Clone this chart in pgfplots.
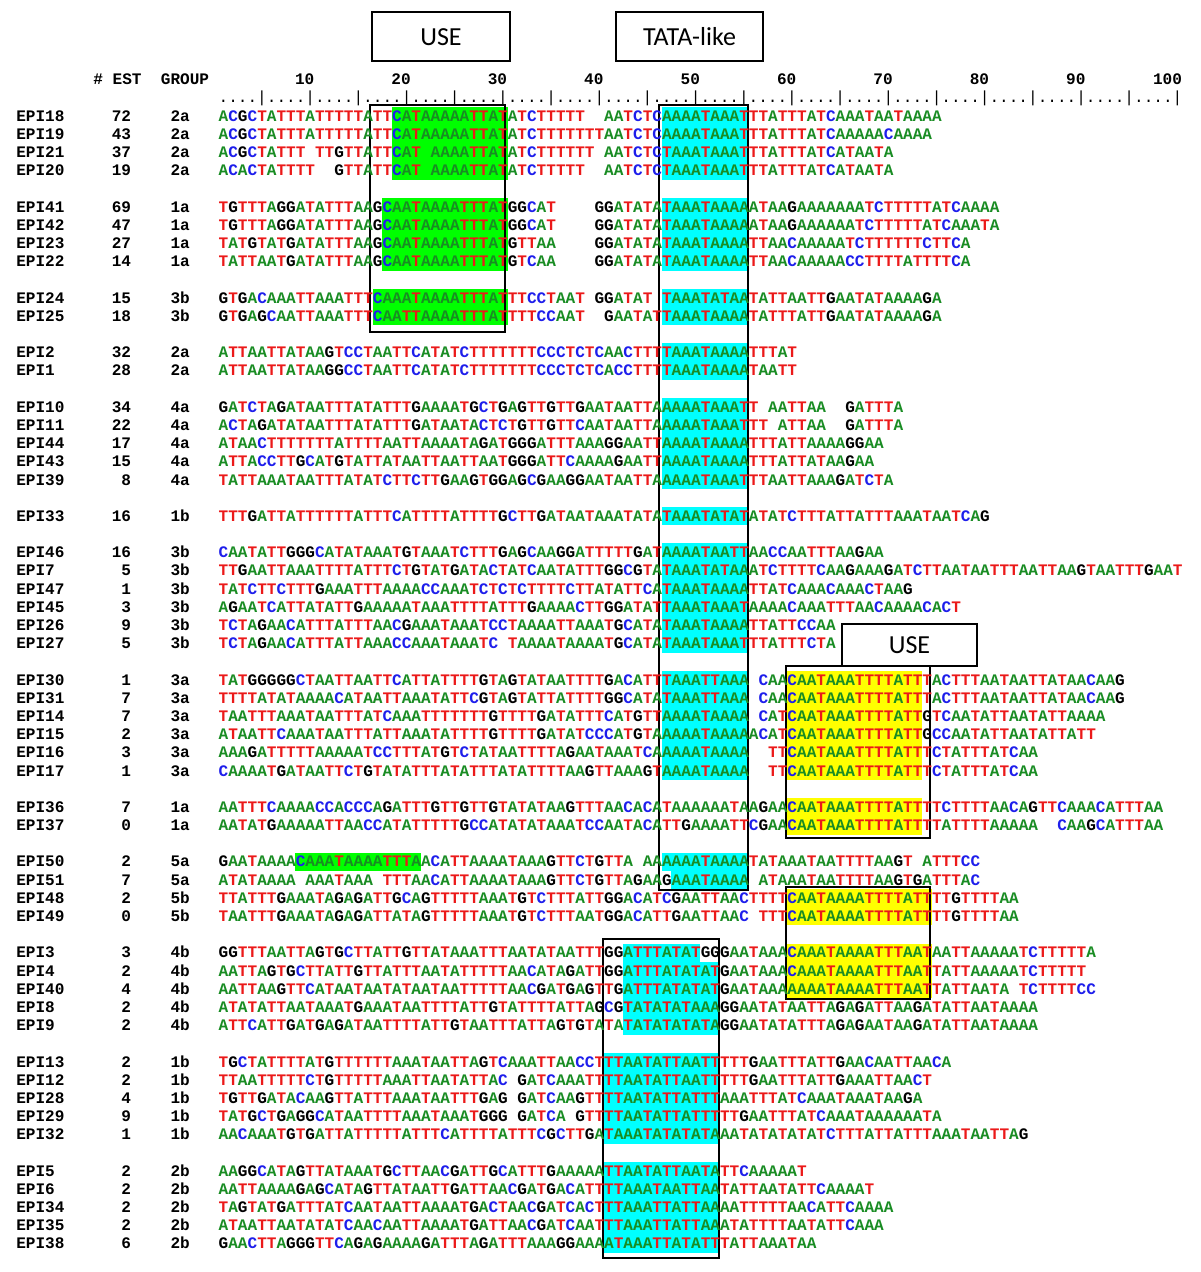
\documentclass[border=0pt]{standalone}
\usepackage{fontspec}
\usepackage{xcolor}
\usepackage{pgfplots}
\pgfplotsset{compat=1.18}
\newfontfamily\seqfont{Liberation Mono}
\newfontfamily\boxfont{Carlito}
\definecolor{cA}{RGB}{25,140,35}
\definecolor{cT}{RGB}{235,25,25}
\definecolor{cC}{RGB}{30,30,235}
\definecolor{cG}{RGB}{0,0,0}
\definecolor{hlG}{RGB}{0,255,0}
\definecolor{hlC}{RGB}{0,255,255}
\definecolor{hlY}{RGB}{255,255,0}

% one coloured letter per base, '-' is a gap
\makeatletter
\def\nt#1{\if#1A\textcolor{cA}{A}\else\if#1T\textcolor{cT}{T}\else
  \if#1C\textcolor{cC}{C}\else\if#1G\textcolor{cG}{G}\else\phantom{A}\fi\fi\fi\fi}
\def\seq#1{\seq@#1\@nil}
\def\seq@#1{\ifx#1\@nil\else\nt#1\expandafter\seq@\fi}
\makeatother

\tikzset{lab/.style={anchor=base west, inner sep=0pt,
  font=\seqfont\bfseries\fontsize{8.03}{9}\selectfont}}

% grid in pixels: column c starts at 218.3+(c-1)*9.64, row r centred at 116+18.19*r
\newcommand\ybase[1]{121.2+18.19*#1}
\newcommand\seqrow[6]{%
  \node[lab] at (axis cs:15.9,{\ybase{#1}}) {#2};
  \node[lab,anchor=base east] at (axis cs:131.5,{\ybase{#1}}) {#3};
  \node[lab] at (axis cs:170.1,{\ybase{#1}}) {#4};
  \node[lab] at (axis cs:218.3,{\ybase{#1}}) {\seq{#5}};
  \node[lab] at (axis cs:690.7,{\ybase{#1}}) {\seq{#6}};
}
% highlight: colour, first col, last col, first row, last row
\newcommand\hl[5]{%
  \pgfmathsetmacro\xa{218.3+(#2-1)*9.64}%
  \pgfmathsetmacro\xb{218.3+#3*9.64}%
  \pgfmathsetmacro\ya{116+18.19*#4-9.1}%
  \pgfmathsetmacro\yb{116+18.19*#5+9.1}%
  \addplot[fill=#1,draw=none,mark=none,forget plot]
    coordinates {(\xa,\ya) (\xb,\ya) (\xb,\yb) (\xa,\yb)} -- cycle;
}
% outline box in pixels: x1 x2 y1 y2
\newcommand\bx[4]{%
  \addplot[draw=black,line width=1pt,mark=none,forget plot]
    coordinates {(#1,#3) (#2,#3) (#2,#4) (#1,#4)} -- cycle;
}

\begin{document}
\begin{tikzpicture}
\begin{axis}[
  width=600pt, height=636pt, scale only axis,
  xmin=0, xmax=1200, ymin=0, ymax=1272, y dir=reverse,
  hide axis, clip=false,
]
\addplot[draw=none,mark=none,forget plot] coordinates {(0,0) (1200,1272)};

% green USE highlights
\hl{hlG}{19}{30}{0}{3}
\hl{hlG}{18}{30}{5}{8}
\hl{hlG}{17}{30}{10}{11}
\hl{hlG}{9}{21}{41}{41}
% cyan TATA-like highlights
\hl{hlC}{47}{55}{0}{3}
\hl{hlC}{47}{55}{5}{8}
\hl{hlC}{47}{55}{10}{11}
\hl{hlC}{47}{55}{13}{14}
\hl{hlC}{47}{55}{16}{20}
\hl{hlC}{47}{55}{22}{22}
\hl{hlC}{47}{55}{24}{29}
\hl{hlC}{47}{55}{31}{36}
\hl{hlC}{47}{55}{41}{41}
\hl{hlC}{48}{55}{42}{42}
\hl{hlC}{43}{50}{46}{46}
\hl{hlC}{43}{52}{47}{50}
\hl{hlC}{41}{52}{52}{56}
\hl{hlC}{41}{52}{58}{62}
% yellow USE highlights
\hl{hlY}{60}{73}{31}{36}
\hl{hlY}{60}{73}{38}{39}
\hl{hlY}{60}{74}{43}{44}
\hl{hlY}{60}{74}{46}{48}

% outlines
\bx{370}{505}{105}{332}
\bx{659}{748}{105}{890}
\bx{786}{930}{666}{838}
\bx{786}{930}{887}{999}
\bx{603}{719}{939}{1258}
% label boxes
\addplot[draw=black,fill=white,line width=1pt,mark=none,forget plot]
  coordinates {(372,12) (510,12) (510,61) (372,61)} -- cycle;
\addplot[draw=black,fill=white,line width=1pt,mark=none,forget plot]
  coordinates {(616,12) (763,12) (763,61) (616,61)} -- cycle;
\addplot[draw=black,fill=white,line width=1pt,mark=none,forget plot]
  coordinates {(842,624) (977,624) (977,666) (842,666)} -- cycle;
\node[font=\boxfont\fontsize{13}{15}\selectfont] at (axis cs:441,37) {USE};
\node[font=\boxfont\fontsize{13}{15}\selectfont] at (axis cs:689.5,37) {TATA-like};
\node[font=\boxfont\fontsize{13}{15}\selectfont] at (axis cs:909.5,645) {USE};

% header and ruler
\node[lab] at (axis cs:93.0,85) {\#\ EST};
\node[lab] at (axis cs:160.5,85) {GROUP};
\foreach \k in {1,...,10} {
  \pgfmathsetmacro\xk{218.3+10*\k*9.64}
  \edef\tmp{\noexpand\node[lab,anchor=base east] at (axis cs:\xk,85) {\the\numexpr10*\k\relax};}
  \tmp
}
\node[lab,font=\seqfont\fontsize{8.03}{9}\selectfont] at (axis cs:218.3,103) {....|....|....|....|....|....|....|....|....|....|....|....|....|....|....|....|....|....|....|....|};

% sequences: left part cols 1-49, right part from col 50
\seqrow{0}{EPI18}{72}{2a}{ACGCTATTTATTTTTATTCATAAAAATTATATCTTTTT--AATCTCAAA}{ATAAATTTATTTATCAAATAATAAAA}
\seqrow{1}{EPI19}{43}{2a}{ACGCTATTTATTTTTATTCATAAAAATTATATCTTTTTTTAATCTCAAA}{ATAAATTTATTTATCAAAAACAAAA}
\seqrow{2}{EPI21}{37}{2a}{ACGCTATTT-TTGTTATTCAT-AAAATTATATCTTTTTT-AATCTCTAA}{ATAAATTTATTTATCATAATA}
\seqrow{3}{EPI20}{19}{2a}{ACACTATTTT--GTTATTCAT-AAAATTATATCTTTTT--AATCTCTAA}{ATAAATTTATTTATCATAATA}
\seqrow{5}{EPI41}{69}{1a}{TGTTTAGGATATTTAAGCAATAAAATTTATGGCAT----GGATATATAA}{ATAAAAATAAGAAAAAAATCTTTTTATCAAAA}
\seqrow{6}{EPI42}{47}{1a}{TGTTTAGGATATTTAAGCAATAAAATTTATGGCAT----GGATATATAA}{ATAAAAATAAGAAAAAATCTTTTTATCAAATA}
\seqrow{7}{EPI23}{27}{1a}{TATGTATGATATTTAAGCAATAAAATTTATGTTAA----GGATATATAA}{ATAAAATTAACAAAAATCTTTTTTCTTCA}
\seqrow{8}{EPI22}{14}{1a}{TATTAATGATATTTAAGCAATAAAATTTATGTCAA----GGATATATAA}{ATAAAATTAACAAAAACCTTTTATTTTCA}
\seqrow{10}{EPI24}{15}{3b}{GTGACAAATTAAATTTCAAATAAAATTTATTTCCTAAT-GGATAT-TAA}{ATATAATATTAATTGAATATAAAAGA}
\seqrow{11}{EPI25}{18}{3b}{GTGAGCAATTAAATTTCAATTAAAATTTATTTTCCAAT--GAATATTAA}{ATAAAATATTTATTGAATATAAAAGA}
\seqrow{13}{EPI2}{32}{2a}{ATTAATTATAAGTCCTAATTCATATCTTTTTTTCCCTCTCAACTTTTAA}{ATAAAATTTAT}
\seqrow{14}{EPI1}{28}{2a}{ATTAATTATAAGGCCTAATTCATATCTTTTTTTCCCTCTCACCTTTTAA}{ATAAAATAATT}
\seqrow{16}{EPI10}{34}{4a}{GATCTAGATAATTTATATTTGAAAATGCTGAGTTGTTGAATAATTAAAA}{ATAAATT-AATTAA--GATTTA}
\seqrow{17}{EPI11}{22}{4a}{ACTAGATATAATTTATATTTGATAATACTCTGTTGTTCAATAATTAAAA}{ATAAATTT-ATTAA--GATTTA}
\seqrow{18}{EPI44}{17}{4a}{ATAACTTTTTTTATTTTAATTAAAATAGATGGGATTTAAAGGAATTAAA}{ATAAAATTTATTAAAAGGAA}
\seqrow{19}{EPI43}{15}{4a}{ATTACCTTGCATGTATTATAATTAATTAATGGGATTCAAAAGAATTAAA}{ATAAAATTTATTATAAGAA}
\seqrow{20}{EPI39}{8}{4a}{TATTAAATAATTTATATCTTCTTGAAGTGGAGCGAAGGAATAATTAAAA}{ATAAATTTAATTAAAGATCTA}
\seqrow{22}{EPI33}{16}{1b}{TTTGATTATTTTTTATTTCATTTTATTTTGCTTGATAATAAATATATAA}{ATATATATATCTTTATTATTTAAATAATCAG}
\seqrow{24}{EPI46}{16}{3b}{CAATATTGGGCATATAAATGTAAATCTTTGAGCAAGGATTTTTGATAAA}{ATAATTAACCAATTTAAGAA}
\seqrow{25}{EPI7}{5}{3b}{TTGAATTAAATTTTATTTCTGTATGATACTATCAATATTTGGCGTATAA}{ATATAAATCTTTTCAAGAAAGATCTTAATAATTTAATTAAGTAATTTGAAT}
\seqrow{26}{EPI47}{1}{3b}{TATCTTCTTTGAAATTTAAAACCAAATCTCTCTTTTCTTATATTCATAA}{ATAAAATTATCAAACAAACTAAG}
\seqrow{27}{EPI45}{3}{3b}{AGAATCATTATATTGAAAAATAAATTTTATTTGAAAACTTGGATATTAA}{ATAAATAAAACAAATTTAACAAAACACT}
\seqrow{28}{EPI26}{9}{3b}{TCTAGAACATTTATTTAACGAAATAAATCCTAAAATTAAATGCATATAA}{ATAAAATTATTCCAA}
\seqrow{29}{EPI27}{5}{3b}{TCTAGAACATTTATTAAACCAAATAAATC-TAAAATAAAATGCATATAA}{ATAAATTTATTTCTA}
\seqrow{31}{EPI30}{1}{3a}{TATGGGGGCTAATTAATTCATTATTTTGTAGTATAATTTTGACATTTAA}{ATTAAA-CAACAATAAATTTTATTTACTTTAATAATTATAACAAG}
\seqrow{32}{EPI31}{7}{3a}{TTTTATATAAAACATAATTAAATATTCGTAGTATTATTTTGGCATATAA}{ATTAAA-CAACAATAAATTTTATTTACTTTAATAATTATAACAAG}
\seqrow{33}{EPI14}{7}{3a}{TAATTTAAATAATTTATCAAATTTTTTTGTTTTGATATTTCATGTTAAA}{ATAAAA-CATCAATAAATTTTATTGTCAATATTAATATTAAAA}
\seqrow{34}{EPI15}{2}{3a}{ATAATTCAAATAATTTATTAAATATTTTGTTTTGATATCCCATGTAAAA}{ATAAAAACATCAATAAATTTTATTGCCAATATTAATATTATT}
\seqrow{35}{EPI16}{3}{3a}{AAAGATTTTTAAAAATCCTTTATGTCTATAATTTTAGAATAAATCAAAA}{ATAAAA--TTCAATAAATTTTATTTCTATTTATCAA}
\seqrow{36}{EPI17}{1}{3a}{CAAAATGATAATTCTGTATATTTATATTTATATTTTAAGTTAAAGTAAA}{ATAAAA--TTCAATAAATTTTATTTCTATTTATCAA}
\seqrow{38}{EPI36}{7}{1a}{AATTTCAAAACCACCCAGATTTGTTGTTGTATATAAGTTTAACACATAA}{AAAATAAGAACAATAAATTTTATTTTCTTTTAACAGTTCAAACATTTAA}
\seqrow{39}{EPI37}{0}{1a}{AATATGAAAAATTAACCATATTTTTGCCATATATAAATCCAATACATTG}{AAAATTCGAACAATAAATTTTATTTTATTTTAAAAA--CAAGCATTTAA}
\seqrow{41}{EPI50}{2}{5a}{GAATAAAACAAATAAAATTTAACATTAAAATAAAGTTCTGTTA-AAAAA}{ATAAAATATAAATAATTTTAAGT-ATTTCC}
\seqrow{42}{EPI51}{7}{5a}{ATATAAAA-AAATAAA-TTTAACATTAAAATAAAGTTCTGTTAGAAGAA}{ATAAAA-ATAAATAATTTTAAGTGATTTAC}
\seqrow{43}{EPI48}{2}{5b}{TTATTTGAAATAGAGATTGCAGTTTTTAAATGTCTTTATTGGACATCGA}{ATTAACTTTTCAATAAAATTTTATTTTGTTTTAA}
\seqrow{44}{EPI49}{0}{5b}{TAATTTGAAATAGAGATTATAGTTTTTAAATGTCTTTAATGGACATTGA}{ATTAAC-TTTCAATAAAATTTTATTTTGTTTTAA}
\seqrow{46}{EPI3}{3}{4b}{GGTTTAATTAGTGCTTATTGTTATAAATTTAATATAATTTGGATTTATA}{TGGGAATAAACAAATAAAATTTAATAATTAAAAATCTTTTTA}
\seqrow{47}{EPI4}{2}{4b}{AATTAGTGCTTATTGTTATTTAATATTTTTAACATAGATTGGATTTATA}{TATGAATAAACAAATAAAATTTAATTATTAAAAATCTTTTT}
\seqrow{48}{EPI40}{4}{4b}{AATTAAGTTCATAATAATATAATAATTTTTAACGATGAGTTGATTTATA}{TATGAATAAAAAAATAAAATTTAATTATTAATA-TCTTTTCC}
\seqrow{49}{EPI8}{2}{4b}{ATATATTAATAAATGAAATAATTTTATTGTATTTTATTAGCGTATATAT}{AAAGGAATATAATTAGAGATTAAGATATTAATAAAA}
\seqrow{50}{EPI9}{2}{4b}{ATTCATTGATGAGATAATTTTATTGTAATTTATTAGTGTATATATATAT}{ATAGGAATATATTTAGAGAATAAGATATTAATAAAA}
\seqrow{52}{EPI13}{2}{1b}{TGCTATTTTATGTTTTTTAAATAATTAGTCAAATTAACCTTTAATATTA}{ATTTTTGAATTTATTGAACAATTAACA}
\seqrow{53}{EPI12}{2}{1b}{TTAATTTTTCTGTTTTTAAATTAATATTAC-GATCAAATTTTAATATTA}{ATTTTTGAATTTATTGAAATTAACT}
\seqrow{54}{EPI28}{4}{1b}{TGTTGATACAAGTTATTTAAATAATTTGAG-GATCAAGTTTTAATATTA}{TTTAAATTTATCAAATAAATAAGA}
\seqrow{55}{EPI29}{9}{1b}{TATGCTGAGGCATAATTTTAAATAAATGGG-GATCA-GTTTTAATATTA}{TTTTTGAATTTATCAAATAAAAAATA}
\seqrow{56}{EPI32}{1}{1b}{AACAAATGTGATTATTTTTATTTCATTTTATTTCGCTTGATAAATATAT}{ATAAATATATATATCTTTATTATTTAAATAATTAG}
\seqrow{58}{EPI5}{2}{2b}{AAGGCATAGTTATAAATGCTTAACGATTGCATTTGAAAAATTAATATTA}{ATATTCAAAAAT}
\seqrow{59}{EPI6}{2}{2b}{AATTAAAAGAGCATAGTTATAATTGATTAACGATGACATTTTAAATAAT}{TAATATTAATATTCAAAAT}
\seqrow{60}{EPI34}{2}{2b}{TAGTATGATTTATCAATAATTAAAATGACTAACGATCACTTTAAATTAT}{TAAAATTTTTAACATTCAAAA}
\seqrow{61}{EPI35}{2}{2b}{ATAATTAATATATCAACAATTAAAATGATTAACGATCAATTTAAATTAT}{TAAATATTTTAATATTCAAA}
\seqrow{62}{EPI38}{6}{2b}{GAACTTAGGGTTCAGAGAAAAGATTTAGATTTAAAGGAAAATAAATTAT}{ATTTATTAAATAA}
\end{axis}
\end{tikzpicture}
\end{document}
